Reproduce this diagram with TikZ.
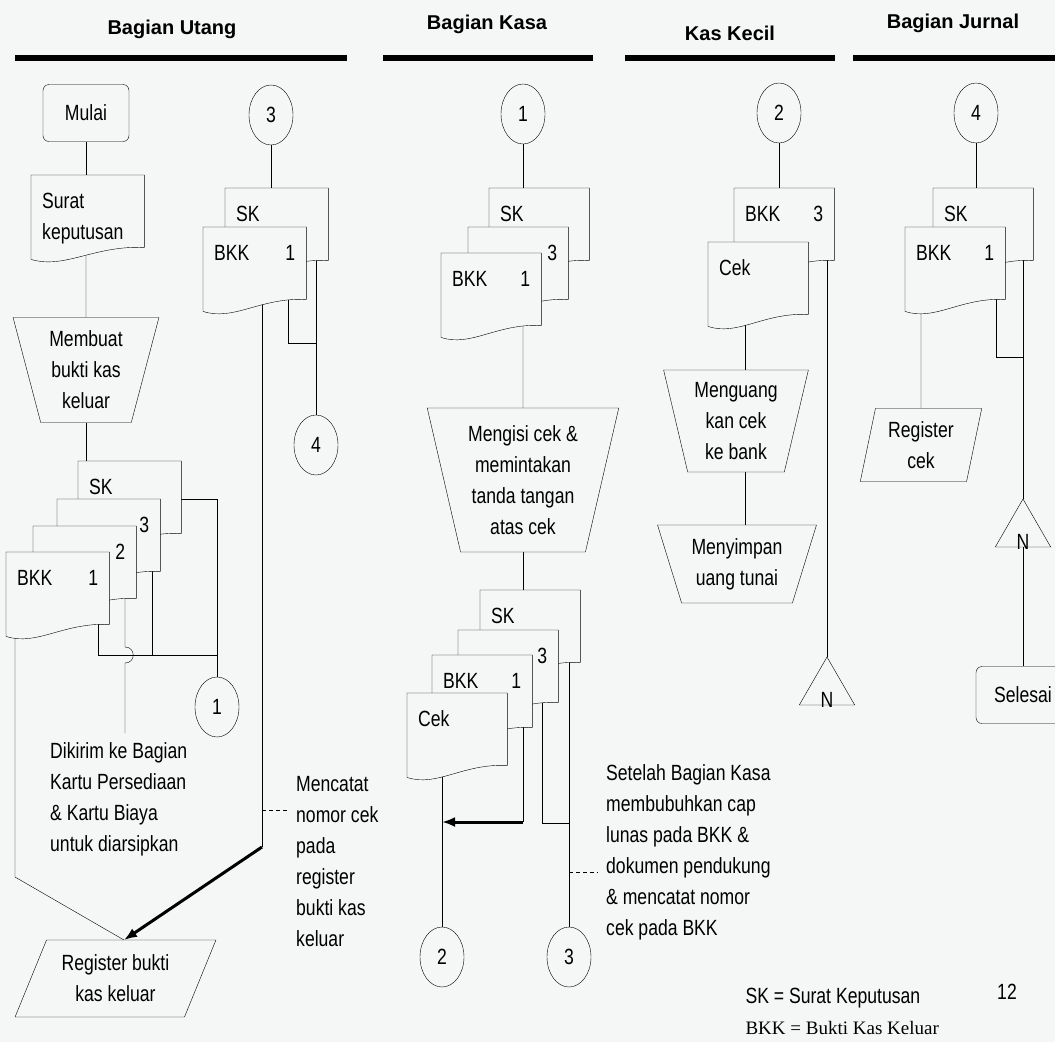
\documentclass[tikz,border=0pt]{standalone}
\usepackage{fontspec}
\setmainfont{Liberation Sans}
\newfontfamily\flowfont[FakeStretch=0.8]{Liberation Sans}
\newfontfamily\legendfont{Liberation Serif}
\usetikzlibrary{arrows.meta,positioning,shapes.geometric,calc}
\definecolor{paper}{HTML}{F4F7F5}
\newcommand\flow{\flowfont\fontsize{22}{31}\selectfont}
\pgfdeclarelayer{backdrop}
\pgfdeclarelayer{wires}
\pgfsetlayers{backdrop,wires,main}

% document symbol: flat top, wavy bottom edge
\makeatletter
\pgfdeclareshape{document}{%
  \inheritsavedanchors[from=rectangle]%
  \inheritanchorborder[from=rectangle]%
  \inheritanchor[from=rectangle]{center}%
  \inheritanchor[from=rectangle]{base}%
  \inheritanchor[from=rectangle]{mid}%
  \inheritanchor[from=rectangle]{north}%
  \inheritanchor[from=rectangle]{south}%
  \inheritanchor[from=rectangle]{east}%
  \inheritanchor[from=rectangle]{west}%
  \inheritanchor[from=rectangle]{north west}%
  \inheritanchor[from=rectangle]{north east}%
  \inheritanchor[from=rectangle]{south west}%
  \inheritanchor[from=rectangle]{south east}%
  \backgroundpath{%
    \southwest \pgf@xa=\pgf@x \pgf@ya=\pgf@y
    \northeast \pgf@xb=\pgf@x \pgf@yb=\pgf@y
    \pgf@xc=\pgf@xb \advance\pgf@xc by -\pgf@xa
    \pgfmathsetmacro\docAx{\pgf@xa+0.55*\pgf@xc}%
    \pgfmathsetmacro\docBx{\pgf@xa+0.3*\pgf@xc}%
    \pgfmathsetmacro\docAy{\pgf@ya+2}%
    \pgfmathsetmacro\docBy{\pgf@ya-22}%
    \pgfmathsetmacro\docCy{\pgf@ya-12}%
    \edef\docLx{\the\pgf@xa}\edef\docRx{\the\pgf@xb}%
    \edef\docTy{\the\pgf@yb}\edef\docSy{\the\pgf@ya}%
    \pgfpathmoveto{\pgfqpoint{\docLx}{\docTy}}%
    \pgfpathlineto{\pgfqpoint{\docRx}{\docTy}}%
    \pgfpathlineto{\pgfqpoint{\docRx}{\docSy}}%
    \pgfpathcurveto
      {\pgfqpoint{\docAx pt}{\docAy pt}}%
      {\pgfqpoint{\docBx pt}{\docBy pt}}%
      {\pgfqpoint{\docLx}{\docCy pt}}%
    \pgfpathclose
  }%
}
\makeatother

\begin{document}
\begin{tikzpicture}[x=1pt,y=-1pt,line width=1.6pt,font=\flow,
  doc/.style={shape=document,draw,fill=paper,anchor=north west,
              minimum width=100pt,minimum height=72pt,text width=78pt,
              inner xsep=11pt,inner ysep=11pt,text height=22pt,text depth=28pt,
              align=left},
  wide/.style={minimum width=103pt,text width=81pt},
  term/.style={draw,rounded corners=6pt,fill=paper,minimum width=86pt,
               minimum height=57pt},
  conn/.style={draw,ellipse,fill=paper,minimum width=44pt,minimum height=60pt,
               inner sep=0pt},
  manual/.style={draw,trapezium,trapezium stretches=true,fill=paper,
                 align=center,inner sep=0pt},
  offpage/.style={draw,regular polygon,regular polygon sides=3,
                  minimum size=64pt,inner sep=0pt},
  note/.style={align=left,anchor=north west,inner sep=0pt},
  head/.style={font=\bfseries\fontsize{20}{24}\selectfont},
  lane/.style={line width=6pt},
  fatarr/.style={-{Latex[length=13pt,width=10pt]},line width=3pt},
  cue/.style={dash pattern=on 4pt off 3pt}
]
\useasboundingbox (0,0) rectangle (1055,1042);
\begin{pgfonlayer}{backdrop}
\fill[paper] (0,0) rectangle (1055,1042);
\end{pgfonlayer}

% lane headers
\node[head] (hutang) at (172,29) {Bagian Utang};
\node[head] (hkasa) at (487,24) {Bagian Kasa};
\node[head] (hkecil) at (730,33) {Kas Kecil};
\node[head] (hjurnal) at (953,23) {Bagian Jurnal};
\draw[lane] (15,58) -- (347,58);
\draw[lane] (383,58) -- (593,58);
\draw[lane] (625,58) -- (835,58);
\draw[lane] (853,58) -- (1055,58);

% Bagian Utang
\node[term] (mulai) at (86,113) {Mulai};
\node[doc,minimum width=113pt,text width=91pt] (surat) at (31,175) {Surat\\keputusan};
\node[manual,trapezium left angle=106,trapezium right angle=106,
      minimum width=146pt,minimum height=105pt] (buat) at (86,370)
      {Membuat\\bukti kas\\keluar};
\node[doc,wide] (skl) at (78,461) {SK};
\node[doc,wide] (dl3) at (57,499) {\mbox{}\hfill 3\hspace*{4pt}};
\node[doc,wide] (dl2) at (33,526) {\mbox{}\hfill 2\hspace*{4pt}};
\node[doc,wide] (bkkl) at (6,552) {BKK\hfill 1\hspace*{4pt}};
\node[conn] (c1u) at (217,707) {1};
\node[conn] (c3a) at (271,115) {3};
\node[doc,wide] (sku) at (225,188) {SK};
\node[doc,wide] (bkku) at (203,227) {BKK\hfill 1\hspace*{4pt}};
\node[conn] (c4a) at (316,445) {4};
\node[note] (kirim) at (50,742) {Dikirim ke Bagian\\Kartu Persediaan\\\& Kartu Biaya\\untuk diarsipkan};
\node[note] (catat) at (296,776) {Mencatat\\nomor cek\\pada\\register\\bukti kas\\keluar};
\node[manual,trapezium left angle=62.5,trapezium right angle=117.5,
      minimum width=201pt,minimum height=77pt] (reg1) at (115.5,978.5)
      {Register bukti\\kas keluar};

% Bagian Kasa
\node[conn] (c1k) at (523,114) {1};
\node[doc] (skk) at (489,188) {SK};
\node[doc] (d3k) at (468,227) {\mbox{}\hfill 3\hspace*{4pt}};
\node[doc] (bkkk) at (441,253) {BKK\hfill 1\hspace*{4pt}};
\node[manual,trapezium left angle=105,trapezium right angle=105,
      minimum width=192pt,minimum height=144pt] (isi) at (523,480)
      {Mengisi cek \&\\memintakan\\tanda tangan\\atas cek};
\node[doc] (skb) at (480,590) {SK};
\node[doc] (d3b) at (458,630) {\mbox{}\hfill 3\hspace*{4pt}};
\node[doc] (bkkb) at (432,655) {BKK\hfill 1\hspace*{4pt}};
\node[doc] (cekb) at (407,693) {Cek};
\node[conn] (c2b) at (442,957) {2};
\node[conn] (c3b) at (569,957) {3};
\node[note] (lunas) at (606,764) {Setelah Bagian Kasa\\membubuhkan cap\\lunas pada BKK \&\\dokumen pendukung\\\& mencatat nomor\\cek pada BKK};

% Kas Kecil
\node[conn] (c2c) at (779,113) {2};
\node[doc] (bkkc) at (734,188) {BKK\hfill 3\hspace*{4pt}};
\node[doc] (cekc) at (708,242) {Cek};
\node[manual,trapezium left angle=105,trapezium right angle=105,
      minimum width=145pt,minimum height=102pt] (uang) at (736,421)
      {Menguang\\kan cek\\ke bank};
\node[manual,trapezium left angle=111,trapezium right angle=111,
      minimum width=159pt,minimum height=78pt] (simpan) at (737,564)
      {Menyimpan\\uang tunai};
\node[offpage] (nc) at (827,689) {};
\node[inner sep=0pt] (ncn) at ($(nc.side 2)+(0,-5)$) {N};

% Bagian Jurnal
\node[conn] (c4j) at (976,113) {4};
\node[doc] (skj) at (933,188) {SK};
\node[doc] (bkkj) at (905,227) {BKK\hfill 1\hspace*{4pt}};
\node[manual,trapezium left angle=77,trapezium right angle=103,
      minimum width=122pt,minimum height=73pt] (regc) at (921,445)
      {Register\\cek};
\node[offpage] (nj) at (1023,531) {};
\node[inner sep=0pt] (njn) at ($(nj.side 2)+(0,-5)$) {N};
\node[term,minimum width=94pt] (selesai) at (1023,695) {Selesai};

% legend
\node[anchor=west] (legsk) at (742,998) {SK = Surat Keputusan};
\node[anchor=west,font=\legendfont\fontsize{19}{22}\selectfont] (legbkk) at (742,1028) {BKK = Bukti Kas Keluar};
\node (hal) at (1007,992) {12};

% joints
\coordinate (jl) at (98,655);
\coordinate (jd3) at (152,655);
\coordinate (hp) at (125,655);
\coordinate (hq) at (125,733);
\coordinate (kc) at (15,877);
\coordinate (kb) at (124,940);
\coordinate (ju) at (288,343);
\coordinate (ka) at (262,847);
\coordinate (ma) at (262,810);
\coordinate (kd) at (523,822);
\coordinate (ke) at (542,823);
\coordinate (kf) at (569,872);
\coordinate (kg) at (745,300);
\coordinate (kh) at (996,357);

\begin{pgfonlayer}{wires}
\draw (mulai) -- (mulai |- surat.north);
\draw (mulai |- surat.south) -- (buat);
\draw (buat) -- (buat |- skl.north);
\draw (skl.east |- dl3.north) -| (c1u);
\draw (jl |- bkkl.south) -- (jl) -- (jl -| c1u);
\draw (jd3 |- dl3.south) -- (jd3);
\draw (hp |- dl2.south) -- ($(hp)+(0,-8)$) .. controls ($(hp)+(11,-8)$) and ($(hp)+(11,8)$) .. ($(hp)+(0,8)$) -- (hq);
\draw (kc |- bkkl.south) -- (kc) -- (kb);
\draw (c3a) -- (c3a |- sku.north);
\draw (c4a) -- (c4a |- sku.south);
\draw (ju |- bkku.south) -- (ju) -- (ju -| c4a);
\draw (ka |- bkku.south) -- (ka);
\draw[fatarr] (ka) -- (kb);
\draw[cue] (ma) -- ($(ma -| catat.west)+(-9,0)$);

\draw (c1k) -- (c1k |- skk.north);
\draw (c1k |- bkkk.south) -- (isi);
\draw (isi) -- (isi |- skb.north);
\draw (c2b) -- (c2b |- cekb.south);
\draw (kd |- bkkb.south) -- (kd);
\draw[fatarr] (kd) -- (kd -| c2b);
\draw (ke |- d3b.south) -- (ke) -- (ke -| c3b);
\draw (c3b) -- (c3b |- skb.south);
\draw[cue] (kf) -- ($(kf -| lunas.west)+(-8,0)$);

\draw (c2c) -- (c2c |- bkkc.north);
\draw (kg |- cekc.south) -- (kg |- uang.north);
\draw (kg |- uang.south) -- (kg |- simpan.north);
\draw (nc.corner 1) -- (nc.corner 1 |- bkkc.south);

\draw (c4j) -- (c4j |- skj.north);
\draw (regc) -- (regc |- bkkj.south);
\draw (kh |- bkkj.south) -- (kh) -- (kh -| nj);
\draw (nj.corner 1) -- (nj.corner 1 |- skj.south);
\draw (nj) -- (selesai);
\end{pgfonlayer}
\end{tikzpicture}
\end{document}
